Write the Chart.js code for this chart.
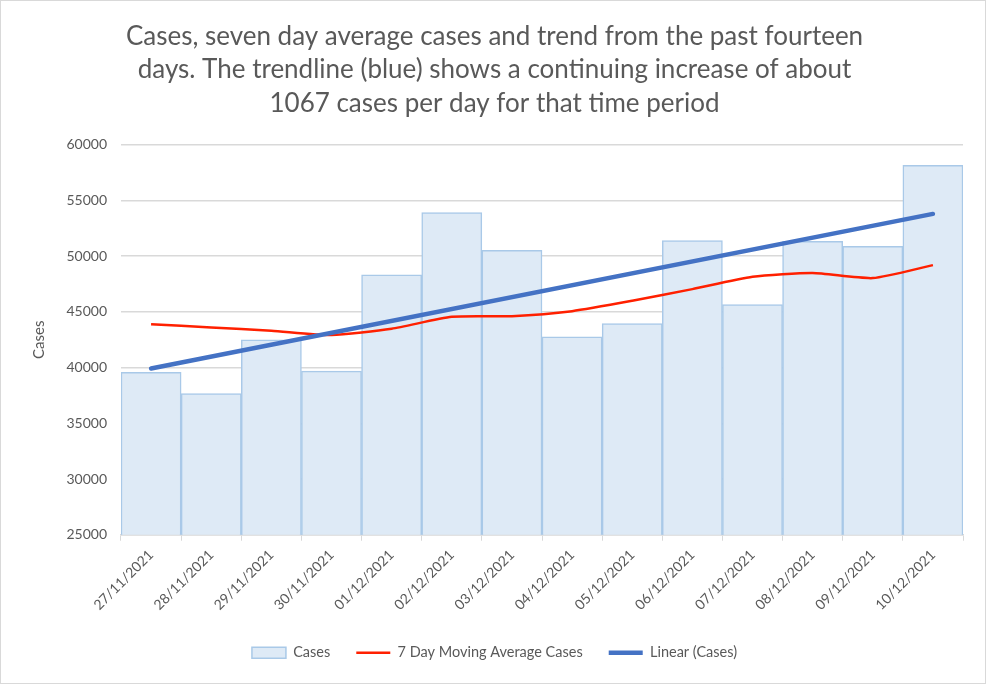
<!DOCTYPE html>
<html>
<head>
<meta charset="utf-8">
<script src="https://cdn.jsdelivr.net/npm/chart.js@4"></script>
<style>
  body { margin: 0; background: #fff; }
  #wrap { position: relative; width: 984px; height: 682px; border: 1px solid #d9d9d9; }
</style>
</head>
<body>
<div id="wrap"><canvas id="casesChart"></canvas></div>
<script>
// Data
const days = ['27/11/2021', '28/11/2021', '29/11/2021', '30/11/2021', '01/12/2021', '02/12/2021', '03/12/2021',
              '04/12/2021', '05/12/2021', '06/12/2021', '07/12/2021', '08/12/2021', '09/12/2021', '10/12/2021'];
const cases = [39570, 37680, 42500, 39690, 48330, 53920, 50520, 42770, 43960, 51410, 45670, 51330, 50880, 58150];
const movingAvg = [43900, 43600, 43310, 42920, 43490, 44560, 44620, 45070, 46000, 47050, 48150, 48490, 48040, 49200];
// trendline endpoints only, the rest left empty
const trend = [39930, null, null, null, null, null, null, null, null, null, null, null, null, 53800];
const titleLines = ['Cases, seven day average cases and trend from the past fourteen',
                    'days. The trendline (blue) shows a continuing increase of about',
                    '1067 cases per day for that time period'];

const grey = '#595959';
const ctx = document.getElementById('casesChart').getContext('2d');

const chart = new Chart(ctx, {
    type: 'bar',
    data: {
        labels: days,
        datasets: [
            {
                type: 'line',
                label: 'Linear (Cases)',
                data: trend,
                borderColor: '#4472c4',
                borderWidth: 4.5,
                borderCapStyle: 'round',
                pointRadius: 0,
                spanGaps: true,
                order: 1
            },
            {
                type: 'line',
                label: '7 Day Moving Average Cases',
                data: movingAvg,
                borderColor: '#ff2000',
                borderWidth: 2.5,
                pointRadius: 0,
                tension: 0.2,
                order: 2
            },
            {
                label: 'Cases',
                data: cases,
                backgroundColor: '#deeaf6',
                borderColor: '#a9c9e8',
                borderWidth: 1.5,
                categoryPercentage: 1,
                barPercentage: 1,
                order: 3
            }
        ]
    },
    options: {
        responsive: true,
        maintainAspectRatio: false,
        animation: false,
        layout: { padding: { left: 25, right: 22, top: 19, bottom: 13 } },
        plugins: {
            title: {
                display: true,
                text: titleLines,
                color: grey,
                font: { family: 'Lato', size: 26, weight: 'normal', lineHeight: 1.28 },
                padding: { top: 0, bottom: 25 }
            },
            legend: {
                position: 'bottom',
                reverse: true,
                labels: {
                    color: grey,
                    font: { family: 'Lato', size: 14.5 },
                    usePointStyle: true,
                    pointStyleWidth: 34,
                    boxHeight: 11,
                    padding: 26,
                    generateLabels(c) {
                        const items = Chart.defaults.plugins.legend.labels.generateLabels(c);
                        items.forEach(it => {
                            const ds = c.data.datasets[it.datasetIndex];
                            it.pointStyle = ds.type === 'line' ? 'line' : 'rect';
                            it.lineWidth = ds.type === 'line' ? ds.borderWidth : 1.5;
                        });
                        return items;
                    }
                }
            },
            tooltip: { enabled: false }
        },
        scales: {
            x: {
                offset: true,
                grid: { drawOnChartArea: false, drawTicks: true, tickLength: 6, color: '#d9d9d9', offset: true },
                border: { color: '#d9d9d9', width: 1.5 },
                ticks: { color: grey, font: { family: 'Lato', size: 14 }, minRotation: 45, maxRotation: 45, padding: 6 }
            },
            y: {
                min: 25000,
                max: 60000,
                grid: { color: '#d9d9d9', lineWidth: 1.5, drawTicks: false },
                border: { display: false },
                ticks: {
                    stepSize: 5000, color: grey, font: { family: 'Lato', size: 14 }, padding: 14,
                    callback: v => String(v)
                },
                title: { display: true, text: 'Cases', color: grey, font: { family: 'Lato', size: 15 }, padding: { bottom: 18 } },
                afterFit(scale) { scale.width = 95; }
            }
        }
    }
});
</script>
</body>
</html>
